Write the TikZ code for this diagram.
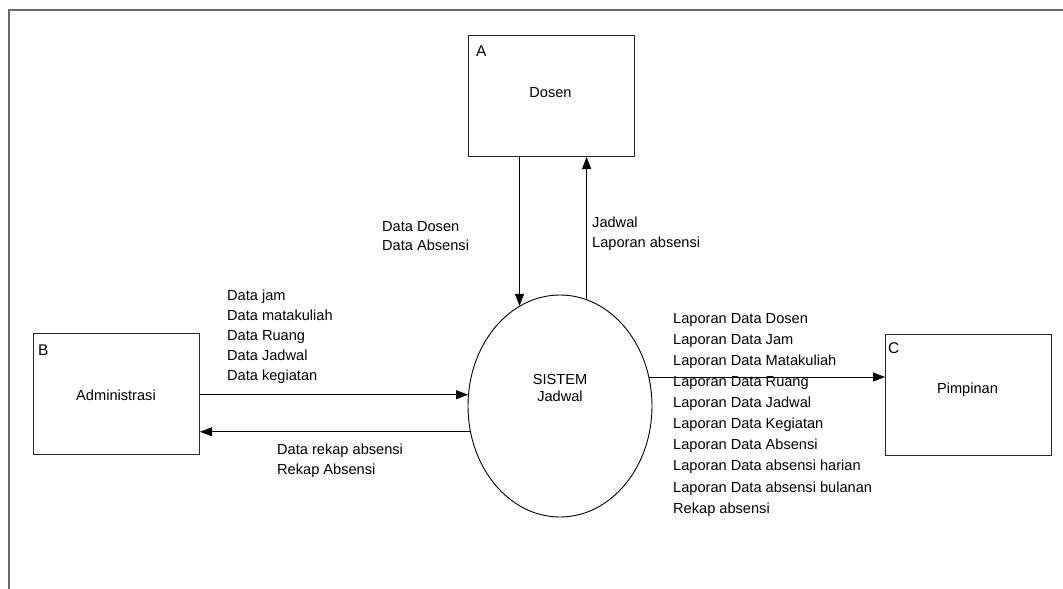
\documentclass[tikz,border=0pt]{standalone}
\usepackage{fontspec}
\setmainfont{Liberation Sans}
\usetikzlibrary{shapes.geometric,arrows.meta}
\definecolor{framegray}{RGB}{105,105,105}
\definecolor{boxgray}{RGB}{40,40,40}
\tikzset{
  entity/.style={draw=boxgray, line width=1pt, rectangle, minimum width=166pt, minimum height=121pt, inner sep=0pt, anchor=north west},
  proc/.style={draw=black, line width=0.9pt, ellipse, minimum width=184pt, minimum height=222pt, inner sep=0pt},
  txt/.style={font=\fontsize{14.6}{19.4}\selectfont, inner sep=0pt},
  lbl/.style={txt, align=left, anchor=north west},
  tag/.style={font=\fontsize{15.5}{17}\selectfont, inner sep=0pt, anchor=north west},
  flow/.style={draw=black, line width=0.8pt, -{Triangle[length=12pt,width=9pt]}},
  frame/.style={draw=framegray, line width=1.5pt}
}
\begin{document}
\begin{tikzpicture}[x=1pt,y=-1pt]
\useasboundingbox (0,0) rectangle (1063,589);
% outer frame
\coordinate (ftl) at (9,10);
\coordinate (ftr) at (1063,10);
\coordinate (fbl) at (9,589);
\draw[frame] (ftr) -- (ftl) -- (fbl);

% entities
\node[entity] (dosen) at (468,35) {};
\node[entity] (admin) at (33,333) {};
\node[entity] (pim) at (885,334) {};
\node[tag] (tA) at (476,46) {A};
\node[tag] (tB) at (38,345) {B};
\node[tag] (tC) at (888,342) {C};
\node[txt] (tdosen) at (550.5,92.5) {Dosen};
\node[txt] (tadmin) at (116,395) {Administrasi};
\node[txt] (tpim) at (967.5,390) {Pimpinan};

% process
\node[proc] (sys) at (560,406) {};
\node[txt, align=center, font=\fontsize{14.6}{17}\selectfont] (tsys) at (560,388) {SISTEM\\Jadwal};

% flows
\draw[flow] (sys.112.4 |- dosen.south) -- (sys.112.4);
\draw[flow] (sys.76.8) -- (sys.76.8 |- dosen.south);
\draw[flow] (sys.173.1 -| admin.east) -- (sys.173.1);
\draw[flow] (sys.196.2) -- (sys.196.2 -| admin.east);
\draw[flow] (sys.18.7) -- (sys.18.7 -| pim.west);

% flow labels
\node[lbl, font=\fontsize{14.6}{19}\selectfont] (lDsn) at (382,221) {Data Dosen\\Data Absensi};
\node[lbl, font=\fontsize{14.6}{19.5}\selectfont] (lJdw) at (592,217) {Jadwal\\Laporan absensi};
\node[lbl, font=\fontsize{14.6}{20}\selectfont] (lIn) at (227,290) {Data jam\\Data matakuliah\\Data Ruang\\Data Jadwal\\Data kegiatan};
\node[lbl, font=\fontsize{14.6}{20}\selectfont] (lRek) at (277,444) {Data rekap absensi\\Rekap Absensi};
\node[lbl, font=\fontsize{14.6}{21.1}\selectfont] (lLap) at (673,313) {Laporan Data Dosen\\Laporan Data Jam\\Laporan Data Matakuliah\\Laporan Data Ruang\\Laporan Data Jadwal\\Laporan Data Kegiatan\\Laporan Data Absensi\\Laporan Data absensi harian\\Laporan Data absensi bulanan\\Rekap absensi};
\end{tikzpicture}
\end{document}
